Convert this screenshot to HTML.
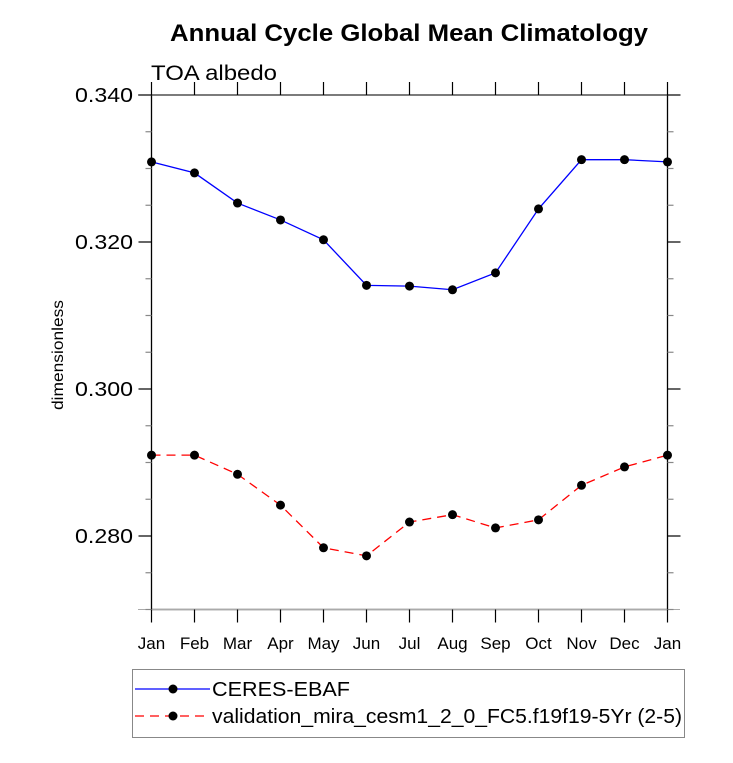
<!DOCTYPE html>
<html><head><meta charset="utf-8"><style>
body{margin:0;background:#fff;}
svg text{font-family:"Liberation Sans",sans-serif;}
</style></head><body>
<svg id="c" width="733" height="758" xmlns="http://www.w3.org/2000/svg">
<text x="170" y="41" font-size="24" font-weight="bold" textLength="478" lengthAdjust="spacingAndGlyphs">Annual Cycle Global Mean Climatology</text>
<text x="151" y="80" font-size="21" textLength="126" lengthAdjust="spacingAndGlyphs">TOA albedo</text>
<text transform="translate(63,355) rotate(-90)" text-anchor="middle" font-size="16" textLength="110" lengthAdjust="spacingAndGlyphs">dimensionless</text>
<g id="axes"></g><g id="marks"></g>
<rect x="132.5" y="669.5" width="552" height="68" fill="none" stroke="#888"/>
<g>
<line x1="135" y1="689" x2="210" y2="689" stroke="#00f" stroke-width="1.3"/>
<circle cx="173" cy="689" r="4.5" fill="#000"/>
<text x="212" y="696" font-size="20" textLength="138" lengthAdjust="spacingAndGlyphs">CERES-EBAF</text></g>
<g>
<line x1="135" y1="716" x2="210" y2="716" stroke="#f00" stroke-width="1.3" stroke-dasharray="9,6"/>
<circle cx="173" cy="716" r="4.5" fill="#000"/>
<text x="212" y="723" font-size="20" textLength="470" lengthAdjust="spacingAndGlyphs">validation_mira_cesm1_2_0_FC5.f19f19-5Yr (2-5)</text></g>
</svg>
<script>
const months=["Jan","Feb","Mar","Apr","May","Jun","Jul","Aug","Sep","Oct","Nov","Dec","Jan"];
const ceres=[0.3309,0.3294,0.3253,0.3230,0.3203,0.3141,0.3140,0.3135,0.3158,0.3245,0.3312,0.3312,0.3309];
const model=[0.2910,0.2910,0.2884,0.2842,0.2784,0.2773,0.2819,0.2829,0.2811,0.2822,0.2869,0.2894,0.2910];
const yTicks=[0.280,0.300,0.320,0.340];
const yTickLabels=["0.280","0.300","0.320","0.340"];
const X0=151.5,X1=667.5,Y0=95,Ymin=0.27,Ymax=0.34,Y1=609.5;
const xs=i=>X0+(X1-X0)*i/(months.length-1);
const ys=v=>Y1-(v-Ymin)/(Ymax-Ymin)*(Y1-Y0);
const NS="http://www.w3.org/2000/svg";
function mk(p,t,a){const e=document.createElementNS(NS,t);for(const k in a)e.setAttribute(k,a[k]);p.appendChild(e);return e;}
const ax=document.getElementById('axes'),mg=document.getElementById('marks');
const frame=mk(ax,'rect',{x:X0,y:Y0,width:X1-X0,height:Y1-Y0,fill:'none',stroke:'#000','stroke-width':1.3});


mk(ax,'line',{x1:138,y1:Y0,x2:680,y2:Y0,stroke:'#444'});
mk(ax,'line',{x1:138,y1:Y1,x2:680,y2:Y1,stroke:'#aaa'});
for(let v=Ymin;v<=Ymax+1e-9;v+=0.005){
 const y=ys(v);const major=Math.abs(Math.round(v*1000)%20)<1e-6;const L=major?13:6;
 mk(ax,'line',{x1:X0-L,y1:y,x2:X0,y2:y,stroke:major?'#000':'#888','stroke-width':1.2});
 mk(ax,'line',{x1:X1,y1:y,x2:X1+L,y2:y,stroke:major?'#000':'#888','stroke-width':1.2});
}
yTicks.forEach((v,i)=>{const t=mk(ax,'text',{x:133,y:ys(v)+7,'text-anchor':'end','font-size':20,textLength:58,lengthAdjust:'spacingAndGlyphs'});t.textContent=yTickLabels[i];

});
months.forEach((m,i)=>{const x=xs(i);
 mk(ax,'line',{x1:x,y1:Y1,x2:x,y2:Y1+13,stroke:'#000','stroke-width':1.2});
 mk(ax,'line',{x1:x,y1:Y0,x2:x,y2:Y0-13,stroke:'#000','stroke-width':1.2});
 const t=mk(ax,'text',{x:x,y:649,'text-anchor':'middle','font-size':17});t.textContent=m;
 
 });
function series(vals,color,dash,name){
 const pl=mk(mg,'polyline',{points:vals.map((v,i)=>xs(i)+','+ys(v)).join(' '),fill:'none',stroke:color,'stroke-width':1.3});
 if(dash)pl.setAttribute('stroke-dasharray',dash);
 
 
 vals.forEach((v,i)=>{const c=mk(mg,'circle',{cx:xs(i),cy:ys(v),r:4.5,fill:'#000'});
 
 });
}
series(ceres,'#00f',null,'ceres');
series(model,'#f00','9,6','model');
</script>
</body></html>
